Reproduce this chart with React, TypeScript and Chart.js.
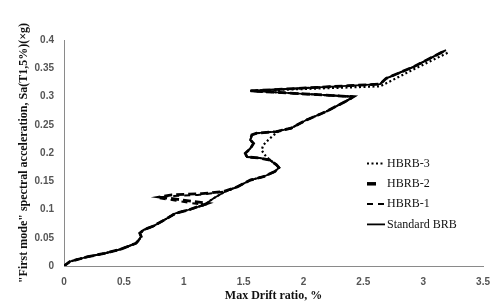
import React, { useEffect, useRef } from "react";
import { Chart, registerables } from "chart.js";

Chart.register(...registerables);

// Standard BRB (solid)
const stdX = [0, 0.05, 0.2, 0.34, 0.47, 0.6, 0.625, 0.645, 0.633, 0.666, 0.75, 0.85, 0.93, 1.05, 1.17, 1.25, 1.34, 1.446, 1.556, 1.665, 1.76, 1.795, 1.775, 1.72, 1.638, 1.528, 1.514, 1.556, 1.583, 1.556, 1.569, 1.61, 1.775, 1.898, 2.02, 2.186, 2.35, 2.418, 1.556, 2.64, 2.69, 2.925, 3.19];
const stdY = [0, 0.008, 0.0165, 0.0224, 0.0295, 0.04, 0.046, 0.052, 0.058, 0.064, 0.071, 0.083, 0.093, 0.1, 0.108, 0.12, 0.131, 0.14, 0.152, 0.158, 0.167, 0.174, 0.179, 0.1876, 0.191, 0.193, 0.1995, 0.208, 0.217, 0.223, 0.232, 0.235, 0.238, 0.244, 0.258, 0.273, 0.291, 0.2996, 0.31, 0.322, 0.332, 0.353, 0.382];

// HBRB-1 (dashed)
const h1X = [0, 0.05, 0.2, 0.34, 0.47, 0.6, 0.625, 0.645, 0.633, 0.666, 0.75, 0.85, 0.93, 1.05, 1.17, 0.926, 0.79, 0.86, 1.117, 1.337, 1.446, 1.556, 1.665, 1.76, 1.795, 1.775, 1.72, 1.638, 1.528, 1.514, 1.556, 1.583, 1.556, 1.569, 1.61, 1.775, 1.898, 2.02, 2.186, 2.35, 2.418, 1.556, 2.64, 2.69, 2.925, 3.19];
const h1Y = [0, 0.008, 0.0165, 0.0224, 0.0295, 0.04, 0.046, 0.052, 0.058, 0.064, 0.071, 0.083, 0.093, 0.1, 0.108, 0.116, 0.12, 0.1235, 0.1257, 0.1315, 0.14, 0.152, 0.158, 0.167, 0.174, 0.179, 0.1876, 0.191, 0.193, 0.1995, 0.208, 0.217, 0.223, 0.232, 0.235, 0.238, 0.244, 0.258, 0.273, 0.291, 0.2996, 0.31, 0.322, 0.332, 0.353, 0.382];

// HBRB-2 (thick dashed)
const h2X = [0, 0.05, 0.2, 0.34, 0.47, 0.6, 0.625, 0.645, 0.633, 0.666, 0.75, 0.85, 0.93, 1.05, 1.2, 0.95, 0.8, 0.9, 1.15, 1.337, 1.446, 1.556, 1.665, 1.76, 1.795, 1.775, 1.72, 1.638, 1.528, 1.514, 1.556, 1.583, 1.556, 1.569, 1.61, 1.775, 1.898, 2.02, 2.186, 2.35, 2.418, 1.556, 2.64, 2.69, 2.925, 3.19];
const h2Y = [0, 0.008, 0.0165, 0.0224, 0.0295, 0.04, 0.046, 0.052, 0.058, 0.064, 0.071, 0.083, 0.093, 0.1, 0.111, 0.118, 0.122, 0.126, 0.128, 0.132, 0.14, 0.152, 0.158, 0.167, 0.174, 0.179, 0.1876, 0.191, 0.193, 0.1995, 0.208, 0.217, 0.223, 0.232, 0.235, 0.238, 0.244, 0.258, 0.273, 0.291, 0.2996, 0.31, 0.322, 0.332, 0.353, 0.382];

// HBRB-3 (dotted)
const h3X = [0, 0.05, 0.2, 0.34, 0.47, 0.6, 0.625, 0.645, 0.633, 0.666, 0.75, 0.85, 0.93, 1.05, 1.17, 1.25, 1.34, 1.446, 1.556, 1.665, 1.76, 1.795, 1.775, 1.72, 1.68, 1.65, 1.665, 1.72, 1.8, 1.898, 2.02, 2.186, 2.35, 2.418, 1.556, 2.64, 2.93, 3.21];
const h3Y = [0, 0.008, 0.0165, 0.0224, 0.0295, 0.04, 0.046, 0.052, 0.058, 0.064, 0.071, 0.083, 0.093, 0.1, 0.108, 0.12, 0.131, 0.14, 0.152, 0.158, 0.167, 0.174, 0.179, 0.1876, 0.196, 0.205, 0.214, 0.226, 0.24, 0.244, 0.258, 0.273, 0.291, 0.2996, 0.31, 0.318, 0.349, 0.378];

const seriesLabels = ["HBRB-3", "HBRB-2", "HBRB-1", "Standard BRB"];
const xTicks = [0, 0.5, 1, 1.5, 2, 2.5, 3, 3.5];
const yTicks = [0, 0.05, 0.1, 0.15, 0.2, 0.25, 0.3, 0.35, 0.4];

const toPts = (xs: number[], ys: number[]) => xs.map((x, i) => ({ x, y: ys[i] }));

const fmt = (v: number) => String(Number(v.toFixed(2)));

const legendSamples = [
  { len: 18, dash: [2, 2.5], width: 2.2 },
  { len: 9, dash: [], width: 3.5 },
  { len: 18, dash: [6, 5], width: 2 },
  { len: 18, dash: [], width: 1.8 },
];

const legendPlugin = {
  id: "customLegend",
  afterDraw(chart: any) {
    const { ctx, chartArea } = chart;
    const x0 = chartArea.left + 303;
    const y0 = chartArea.top + 123.5;
    const gap = 20.3;
    ctx.save();
    chart.data.datasets.forEach((ds: any, i: number) => {
      const y = y0 + i * gap;
      const s = legendSamples[i];
      ctx.beginPath();
      ctx.setLineDash(s.dash);
      ctx.lineWidth = s.width;
      ctx.strokeStyle = "#000";
      ctx.moveTo(x0, y);
      ctx.lineTo(x0 + s.len, y);
      ctx.stroke();
      ctx.setLineDash([]);
      ctx.fillStyle = "#111";
      ctx.font = "12px 'Liberation Serif', serif";
      ctx.textBaseline = "middle";
      ctx.textAlign = "left";
      ctx.fillText(ds.label, x0 + 20, y);
    });
    ctx.restore();
  },
};

export default function App() {
  const ref = useRef<HTMLCanvasElement | null>(null);
  useEffect(() => {
    if (!ref.current) return;
    const common = { pointRadius: 0, pointHoverRadius: 0, tension: 0, fill: false, borderColor: "#000" };
    const chart = new Chart(ref.current, {
      type: "line",
      data: {
        datasets: [
          { ...common, label: seriesLabels[0], data: toPts(h3X, h3Y), borderWidth: 2.2, borderDash: [2, 2.5] },
          { ...common, label: seriesLabels[1], data: toPts(h2X, h2Y), borderWidth: 2.8, borderDash: [8, 4] },
          { ...common, label: seriesLabels[2], data: toPts(h1X, h1Y), borderWidth: 2, borderDash: [6, 5] },
          { ...common, label: seriesLabels[3], data: toPts(stdX, stdY), borderWidth: 1.8 },
        ],
      } as any,
      options: {
        animation: false,
        responsive: false,
        layout: { padding: { left: 0, right: 10, top: 40, bottom: 0 } },
        plugins: { legend: { display: false }, tooltip: { enabled: false } },
        scales: {
          x: {
            type: "linear",
            min: 0,
            max: 3.5,
            afterBuildTicks: (s: any) => { s.ticks = xTicks.map((v) => ({ value: v })); },
            afterFit: (s: any) => { s.height = 41; },
            grid: { display: false, drawTicks: false },
            border: { display: true, color: "#8a8a8a", width: 1 },
            ticks: {
              padding: 10,
              color: "#555",
              font: { family: "'Liberation Sans', Arial, sans-serif", size: 10, weight: "bold" },
              callback: (v: any) => fmt(Number(v)),
              maxRotation: 0,
            },
            title: {
              display: true,
              text: "Max Drift ratio, %",
              color: "#111",
              font: { family: "'Liberation Serif', serif", size: 12, weight: "bold" },
              padding: { top: 0, bottom: 4 },
            },
          },
          y: {
            type: "linear",
            min: 0,
            max: 0.4,
            afterBuildTicks: (s: any) => { s.ticks = yTicks.map((v) => ({ value: v })); },
            afterFit: (s: any) => { s.width = 64; },
            grid: { display: false, drawTicks: false },
            border: { display: true, color: "#8a8a8a", width: 1 },
            ticks: {
              padding: 10,
              color: "#555",
              font: { family: "'Liberation Sans', Arial, sans-serif", size: 10, weight: "bold" },
              callback: (v: any) => fmt(Number(v)),
            },
            title: {
              display: true,
              text: "\"First mode\" spectral acceleration, Sa(T1,5%)(×g)",
              color: "#111",
              font: { family: "'Liberation Serif', serif", size: 12, weight: "bold" },
              padding: { top: 17, bottom: 0 },
            },
          },
        },
      } as any,
      plugins: [legendPlugin],
    });
    return () => chart.destroy();
  }, []);
  return (
    <div style={{ position: "fixed", left: 0, top: 0, width: 500, height: 307, background: "#fff" }}>
      <canvas ref={ref} width={500} height={307} style={{ display: "block" }} />
    </div>
  );
}
